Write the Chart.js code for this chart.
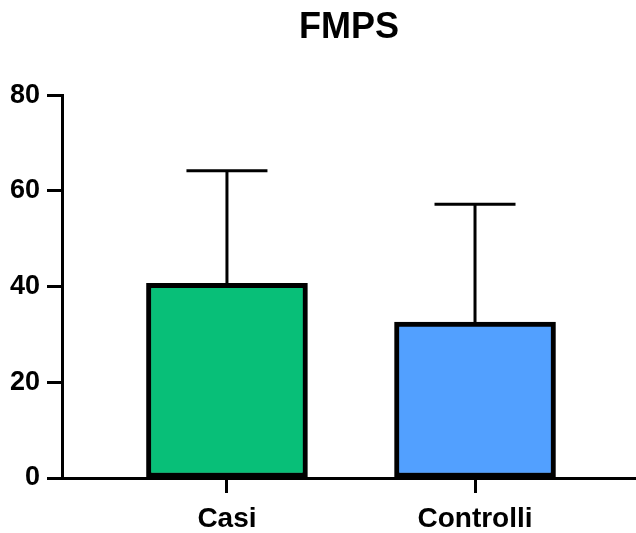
<!DOCTYPE html>
<html>
<head>
<meta charset="utf-8">
<script src="https://cdn.jsdelivr.net/npm/chart.js@4"></script>
<style>
html,body{margin:0;padding:0;background:#fff;}
#wrap{width:636px;height:533px;}
</style>
</head>
<body>
<div id="wrap"><canvas id="c" width="636" height="533"></canvas></div>
<script>
const categories = ['Casi', 'Controlli'];
const means = [40.7, 32.6];
const sds = [23.5, 24.6];
const yTicks = [0, 20, 40, 60, 80];
const barColors = ['#08BF78', '#52A0FF'];

const errorBars = {
  id: 'errorBars',
  afterDatasetsDraw(chart) {
    const ctx = chart.ctx;
    const xs = chart.scales.x, ys = chart.scales.y;
    ctx.save();
    ctx.strokeStyle = '#000';
    ctx.lineWidth = 3;
    means.forEach((m, i) => {
      const x = xs.getPixelForValue(i);
      const yTop = ys.getPixelForValue(m + sds[i]);
      const yBar = ys.getPixelForValue(m);
      ctx.beginPath();
      ctx.moveTo(x, yBar);
      ctx.lineTo(x, yTop);
      ctx.moveTo(x - 40.5, yTop);
      ctx.lineTo(x + 40.5, yTop);
      ctx.stroke();
    });
    ctx.restore();
  }
};

new Chart(document.getElementById('c'), {
  type: 'bar',
  data: {
    datasets: [{
      data: means.map((v, i) => ({x: i, y: v})),
      backgroundColor: barColors,
      borderColor: '#000',
      borderWidth: 5,
      borderSkipped: false,
      barThickness: 161
    }]
  },
  options: {
    responsive: false,
    animation: false,
    layout: {padding: 0},
    plugins: {
      legend: {display: false},
      tooltip: {enabled: false},
      title: {
        display: true,
        text: 'FMPS',
        fullSize: false,
        color: '#000',
        font: {family: 'Liberation Sans', size: 36, weight: 'bold'},
        padding: {top: 6, bottom: 46}
      }
    },
    scales: {
      x: {
        type: 'linear',
        offset: false,
        min: -0.665,
        max: 1.649,
        afterBuildTicks(scale) { scale.ticks = categories.map((c, i) => ({value: i})); },
        afterFit(scale) { scale.height = 55; },
        ticks: {
          callback: (v) => categories[v],
          color: '#000',
          font: {family: 'Liberation Sans', size: 28, weight: 'bold'},
          padding: 9,
          maxRotation: 0
        },
        grid: {offset: false, drawOnChartArea: false, drawTicks: true, tickLength: 15, tickWidth: 3, tickColor: '#000'},
        border: {display: true, color: '#000', width: 3}
      },
      y: {
        min: 0,
        max: 80,
        afterBuildTicks(scale) { scale.ticks = yTicks.map(v => ({value: v})); },
        afterFit(scale) { scale.width = 62; },
        ticks: {
          color: '#000',
          font: {family: 'Liberation Sans', size: 27, weight: 'bold'},
          padding: 7
        },
        grid: {drawOnChartArea: false, drawTicks: true, tickLength: 15, tickWidth: 3, tickColor: '#000'},
        border: {display: true, color: '#000', width: 3}
      }
    }
  },
  plugins: [errorBars]
});
</script>
</body>
</html>
